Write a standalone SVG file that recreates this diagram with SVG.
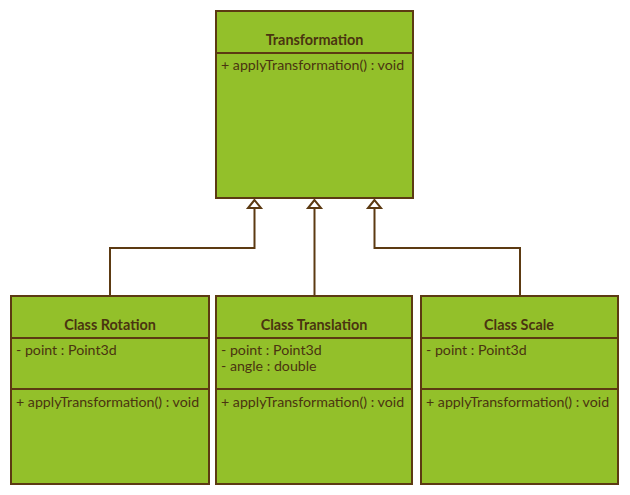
<svg xmlns="http://www.w3.org/2000/svg" width="630" height="495" viewBox="0 0 630 495">
<defs>
<style>
.box{fill:#93c02a;stroke:#5c3a12;stroke-width:2}
.div{stroke:#5c3a12;stroke-width:2}
.t{font-family:Lato,"Liberation Sans",sans-serif;font-size:14.2px;fill:#4a3410}
.h{font-weight:bold;text-anchor:middle;font-size:14.4px}
.c{fill:none;stroke:#5c3a12;stroke-width:2}
.tri{fill:#fff;stroke:#5c3a12;stroke-width:2}
</style>
</defs>
<rect width="630" height="495" fill="#fff"/>
<g id="Transformation">
<rect class="box" x="216" y="11" width="197" height="187"/>
<line class="div" x1="216" y1="53" x2="413" y2="53"/>
<text class="t h" x="314.5" y="45">Transformation</text>
<text class="t" x="221" y="70">+ applyTransformation() : void</text>
</g>
<g id="ClassRotation">
<rect class="box" x="11" y="296" width="198" height="188"/>
<line class="div" x1="11" y1="338" x2="209" y2="338"/>
<line class="div" x1="11" y1="389" x2="209" y2="389"/>
<text class="t h" x="110" y="330">Class Rotation</text>
<text class="t" x="16" y="355">- point : Point3d</text>
<text class="t" x="16" y="407">+ applyTransformation() : void</text>
</g>
<g id="ClassTranslation">
<rect class="box" x="216" y="296" width="196" height="188"/>
<line class="div" x1="216" y1="338" x2="412" y2="338"/>
<line class="div" x1="216" y1="389" x2="412" y2="389"/>
<text class="t h" x="314" y="330">Class Translation</text>
<text class="t" x="221" y="355">- point : Point3d</text>
<text class="t" x="221" y="371">- angle : double</text>
<text class="t" x="221" y="407">+ applyTransformation() : void</text>
</g>
<g id="ClassScale">
<rect class="box" x="421" y="296" width="197" height="188"/>
<line class="div" x1="421" y1="338" x2="618" y2="338"/>
<line class="div" x1="421" y1="389" x2="618" y2="389"/>
<text class="t h" x="519" y="330">Class Scale</text>
<text class="t" x="426" y="355">- point : Point3d</text>
<text class="t" x="426" y="407">+ applyTransformation() : void</text>
</g>
<g id="connectors">
<polyline class="c" points="110,296 110,248 254.5,248 254.5,208"/>
<polyline class="c" points="314.5,296 314.5,208"/>
<polyline class="c" points="520,296 520,248 374.5,248 374.5,208"/>
<polygon class="tri" points="254.5,200 248,208 261,208"/>
<polygon class="tri" points="314.5,200 308,208 321,208"/>
<polygon class="tri" points="374.5,200 368,208 381,208"/>
</g>
</svg>
